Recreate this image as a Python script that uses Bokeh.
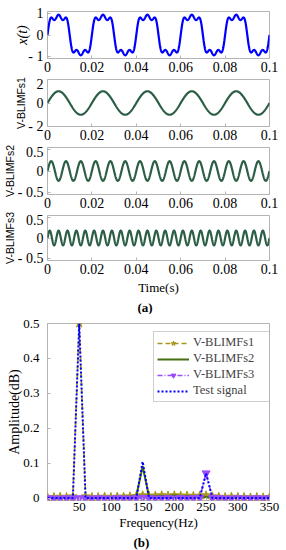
import numpy as np
from bokeh.plotting import figure
from bokeh.layouts import column
from bokeh.models import FixedTicker, Range1d, Title
from bokeh.embed import file_html
from bokeh.resources import INLINE

# ---------------- data ----------------
# time-domain panels (a): components
comp_freq_hz = [50, 150, 250]          # V-BLIMFs1, V-BLIMFs2, V-BLIMFs3
comp_amp = [1.0, 0.23, 0.18]
t_start, t_end, n_samples = 0.0, 0.1, 1001

time_tick_values = [0, 0.02, 0.04, 0.06, 0.08, 0.1]
time_tick_labels = ["0", "0.02", "0.04", "0.06", "0.08", "0.1"]

panel_names = ["x(t)", "V-BLIMFs1", "V-BLIMFs2", "V-BLIMFs3"]
panel_ylims = [(-1.1, 1.1), (-2.0, 2.0), (-0.55, 0.55), (-0.55, 0.55)]
panel_yticks = [[-1, 0, 1], [-2, 0, 2], [-0.5, 0, 0.5], [-0.5, 0, 0.5]]
panel_yticklabels = [["- 1", "0", "1"], ["- 2", "0", "2"],
                     ["- 0.5", "0", "0.5"], ["- 0.5", "0", "0.5"]]

# spectrum panel (b)
freq_hz = [0, 10, 20, 30, 40, 50, 60, 70, 80, 90, 100, 110, 120, 130, 140, 150,
           160, 170, 180, 190, 200, 210, 220, 230, 240, 250, 260, 270, 280, 290,
           300, 310, 320, 330, 340, 350]
amp_v1 = [0.004, 0.004, 0.005, 0.004, 0.006, 0.500, 0.006, 0.004, 0.004, 0.005,
          0.004, 0.005, 0.005, 0.006, 0.007, 0.009, 0.008, 0.008, 0.009, 0.008,
          0.009, 0.008, 0.008, 0.007, 0.008, 0.009, 0.006, 0.005, 0.004, 0.005,
          0.004, 0.004, 0.003, 0.004, 0.003, 0.004]
amp_v2 = [0.002, 0.002, 0.002, 0.003, 0.003, 0.004, 0.003, 0.003, 0.003, 0.004,
          0.004, 0.004, 0.005, 0.005, 0.006, 0.092, 0.006, 0.006, 0.007, 0.007,
          0.008, 0.007, 0.007, 0.006, 0.005, 0.004, 0.003, 0.003, 0.002, 0.002,
          0.002, 0.002, 0.002, 0.002, 0.002, 0.002]
amp_v3 = [0.001, 0.000, 0.000, 0.001, 0.000, 0.001, 0.000, 0.000, 0.001, 0.000,
          0.000, 0.001, 0.000, 0.000, 0.001, 0.002, 0.001, 0.000, 0.000, 0.001,
          0.000, 0.001, 0.000, 0.001, 0.002, 0.072, 0.002, 0.001, 0.000, 0.000,
          0.001, 0.000, 0.000, 0.001, 0.000, 0.001]
amp_test = [0.001, 0.001, 0.001, 0.001, 0.001, 0.500, 0.001, 0.001, 0.001, 0.001,
            0.001, 0.001, 0.001, 0.001, 0.001, 0.105, 0.001, 0.001, 0.001, 0.001,
            0.001, 0.001, 0.001, 0.001, 0.001, 0.072, 0.001, 0.001, 0.001, 0.001,
            0.001, 0.001, 0.001, 0.001, 0.001, 0.001]
freq_tick_values = [50, 100, 150, 200, 250, 300, 350]
amp_tick_values = [0, 0.1, 0.2, 0.3, 0.4, 0.5]
amp_tick_labels = ["0", "0.1", "0.2", "0.3", "0.4", "0.5"]

# ---------------- build signals ----------------
t = np.linspace(t_start, t_end, n_samples)
comps = [a * np.sin(2 * np.pi * f * t) for f, a in zip(comp_freq_hz, comp_amp)]
signals = [comps[0] + comps[1] + comps[2], comps[0], comps[1], comps[2]]
colors = ["#0000ff", "#2b5e45", "#2b5e45", "#2b5e45"]

SERIF = "Liberation Serif"
SANS = "Liberation Sans"
FRAME = "#b4b4b4"


def style(p, tick_size="14px"):
    p.outline_line_color = FRAME
    p.outline_line_width = 1
    p.xgrid.visible = False
    p.ygrid.visible = False
    p.background_fill_color = "white"
    p.border_fill_color = "white"
    for ax in (p.xaxis[0], p.yaxis[0]):
        ax.axis_line_color = None
        ax.major_tick_in = 3
        ax.major_tick_out = 0
        ax.major_tick_line_color = FRAME
        ax.minor_tick_line_color = None
        ax.major_label_text_font = SERIF
        ax.major_label_text_font_size = tick_size
        ax.major_label_text_color = "black"
        ax.axis_label_text_color = "black"
    p.xaxis.major_label_standoff = 3
    p.yaxis.major_label_standoff = 4


figs = []
heights = [76, 68, 68, 102]
tops = [11, 3, 3, 3]
bottoms = [18, 18, 18, 52]
label_fonts = [(SERIF, "italic", "14px"), (SANS, "normal", "10.5px"),
               (SANS, "normal", "10.5px"), (SANS, "normal", "10.5px")]
label_standoffs = [-5, -2, -1, -1]
for i in range(4):
    p = figure(width=286, height=heights[i], output_backend="svg", toolbar_location=None,
               x_range=Range1d(t_start, t_end), y_range=Range1d(*panel_ylims[i]),
               min_border_left=44, min_border_right=17, min_border_top=tops[i],
               min_border_bottom=bottoms[i])
    style(p)
    p.line(t, signals[i], line_color=colors[i], line_width=2.2)
    p.xaxis.ticker = FixedTicker(ticks=time_tick_values)
    p.xaxis.major_label_overrides = dict(zip(time_tick_values, time_tick_labels))
    p.yaxis.ticker = FixedTicker(ticks=panel_yticks[i])
    p.yaxis.major_label_overrides = dict(zip(panel_yticks[i], panel_yticklabels[i]))
    font, fstyle, fsize = label_fonts[i]
    p.yaxis.axis_label = panel_names[i]
    p.yaxis.axis_label_text_font = font
    p.yaxis.axis_label_text_font_style = fstyle
    p.yaxis.axis_label_text_font_size = fsize
    p.yaxis.axis_label_standoff = label_standoffs[i]
    if i == 3:
        p.xaxis.axis_label = "Time(s)"
        p.xaxis.axis_label_text_font = SERIF
        p.xaxis.axis_label_text_font_style = "normal"
        p.xaxis.axis_label_text_font_size = "13px"
        p.xaxis.axis_label_standoff = 3
        p.add_layout(Title(text="(a)", align="left", offset=90, standoff=0,
                           text_font=SERIF, text_font_style="bold",
                           text_font_size="13px", text_color="black"), "below")
    figs.append(p)

# ---------------- spectrum ----------------
pb = figure(width=286, height=236, output_backend="svg", toolbar_location=None,
            x_range=Range1d(0, 350), y_range=Range1d(-0.006, 0.5),
            min_border_left=39, min_border_right=13, min_border_top=9,
            min_border_bottom=50)
style(pb, tick_size="13px")
pb.xaxis.ticker = FixedTicker(ticks=freq_tick_values)
pb.yaxis.ticker = FixedTicker(ticks=amp_tick_values)
pb.yaxis.major_label_overrides = dict(zip(amp_tick_values, amp_tick_labels))
pb.yaxis.major_label_standoff = 8
pb.xaxis.major_label_standoff = 2
pb.yaxis.axis_label = "Amplitude(dB)"
pb.yaxis.axis_label_text_font = SERIF
pb.yaxis.axis_label_text_font_style = "normal"
pb.yaxis.axis_label_text_font_size = "14px"
pb.yaxis.axis_label_standoff = -2
pb.xaxis.axis_label = "Frequency(Hz)"
pb.xaxis.axis_label_text_font = SERIF
pb.xaxis.axis_label_text_font_style = "normal"
pb.xaxis.axis_label_text_font_size = "13px"
pb.xaxis.axis_label_standoff = 1
pb.add_layout(Title(text="(b)", align="left", offset=86, standoff=0,
                    text_font=SERIF, text_font_style="bold",
                    text_font_size="13px", text_color="black"), "below")

c1, c2, c3, c4 = "#a8961c", "#476f12", "#9a4cff", "#0000ff"
pb.line(freq_hz, amp_v1, line_color=c1, line_width=1.6, line_dash="5 3",
        legend_label="V-BLIMFs1")
pb.scatter(freq_hz, amp_v1, marker="star", size=9, fill_color=c1, line_color=c1,
           legend_label="V-BLIMFs1")
pb.line(freq_hz, amp_v2, line_color=c2, line_width=2, legend_label="V-BLIMFs2")
pb.line(freq_hz, amp_v3, line_color=c3, line_width=1.6, line_dash="5 2 1 2",
        legend_label="V-BLIMFs3")
pb.scatter(freq_hz, amp_v3, marker="inverted_triangle", size=8, fill_color=c3,
           line_color=c3, legend_label="V-BLIMFs3")
pb.line(freq_hz, amp_test, line_color=c4, line_width=2, line_dash="2 2",
        legend_label="Test signal")

pb.legend.location = (106, 98)
pb.legend.border_line_color = "#a0a0a0"
pb.legend.background_fill_color = "white"
pb.legend.background_fill_alpha = 1
pb.legend.label_text_font = SERIF
pb.legend.label_text_font_size = "12.5px"
pb.legend.glyph_width = 32
pb.legend.glyph_height = 12
pb.legend.label_height = 12
pb.legend.label_width = 98
pb.legend.label_standoff = 4
pb.legend.spacing = 1
pb.legend.padding = 3
pb.legend.margin = 0
figs.append(pb)

layout = column(*figs, spacing=0)
open("out.html", "w").write(file_html(layout, INLINE))
